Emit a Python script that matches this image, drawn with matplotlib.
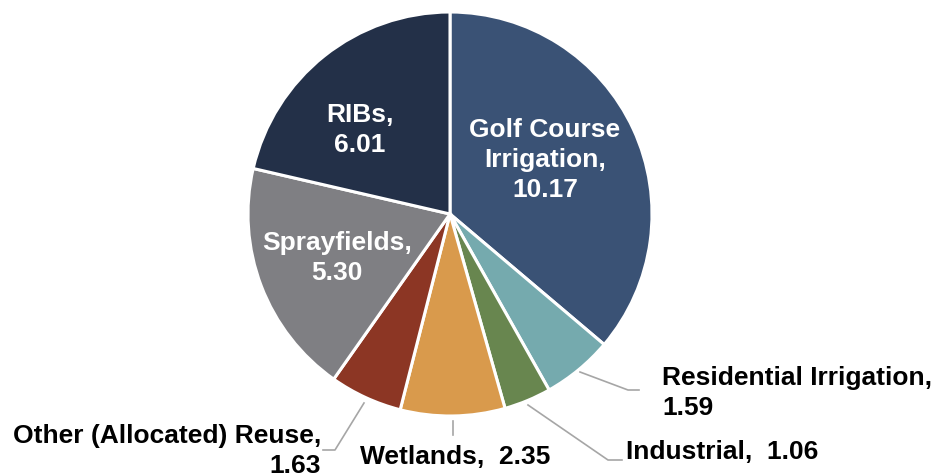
import matplotlib.pyplot as plt

# Reuse flows (MGD)
labels = ['Golf Course Irrigation', 'Residential Irrigation', 'Industrial',
          'Wetlands', 'Other (Allocated) Reuse', 'Sprayfields', 'RIBs']
values = [10.17, 1.59, 1.06, 2.35, 1.63, 5.30, 6.01]
colors = ['#3A5275', '#75AAAE', '#68864F', '#D99A4C', '#8C3624', '#7F7F83', '#233048']

W, H = 935, 477
fig = plt.figure(figsize=(W / 100, H / 100), dpi=100)
ax = fig.add_axes([0, 0, 1, 1])

cx, cy, r = 450, H - 215, 202
ax.pie(values, colors=colors, startangle=90, counterclock=False,
       center=(cx, cy), radius=r,
       wedgeprops=dict(edgecolor='white', linewidth=2.2))
ax.set_xlim(0, W)
ax.set_ylim(0, H)
ax.set_aspect('equal')
ax.axis('off')

font = dict(family='Liberation Sans', fontweight='bold', fontsize=19)
ls = 1.3

def y(p):
    return H - p

# labels inside the pie
ax.text(545, y(160), 'Golf Course\nIrrigation,\n10.17', color='white',
        ha='center', va='center', linespacing=ls, **font)
ax.text(360, y(130), 'RIBs,\n6.01', color='white',
        ha='center', va='center', linespacing=ls, **font)
ax.text(337, y(258), 'Sprayfields,\n5.30', color='white',
        ha='center', va='center', linespacing=ls, **font)

# labels outside with leader lines
lc = '#A6A6A6'
ax.plot([580, 628, 639], [y(373), y(391), y(391)], color=lc, lw=1.2)
ax.text(662, y(393), 'Residential Irrigation,\n1.59', color='black',
        ha='left', va='center', linespacing=ls, **font)

ax.plot([528, 608, 622], [y(406), y(461), y(461)], color=lc, lw=1.2)
ax.text(626, y(452), 'Industrial,  1.06', color='black',
        ha='left', va='center', **font)

ax.plot([453, 453], [y(422), y(436)], color=lc, lw=1.2)
ax.text(455, y(457), 'Wetlands,  2.35', color='black',
        ha='center', va='center', **font)

ax.plot([364, 335, 323], [y(404), y(451), y(451)], color=lc, lw=1.2)
ax.text(321, y(451), 'Other (Allocated) Reuse,\n1.63', color='black',
        ha='right', va='center', multialignment='right', linespacing=ls, **font)

fig.savefig('out.png', dpi=100)
